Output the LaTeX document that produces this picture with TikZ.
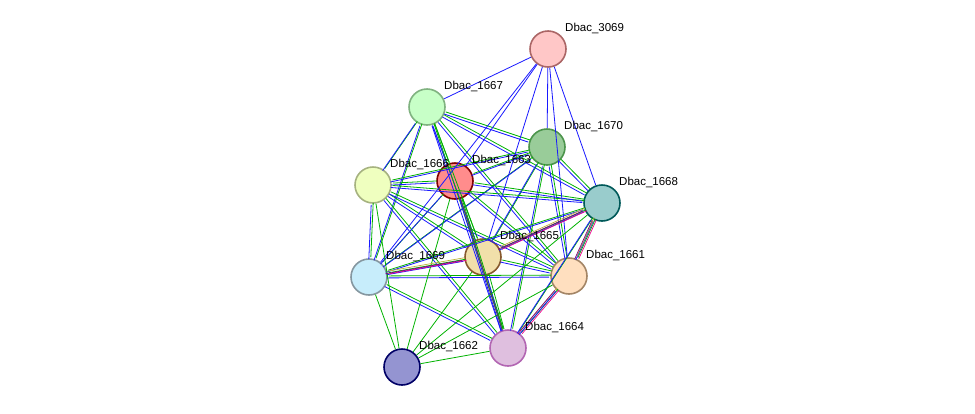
\documentclass[tikz,border=0pt]{standalone}
\usepackage{fontspec}
\setmainfont{Liberation Sans}
\begin{document}
\begin{tikzpicture}[x=1pt,y=-1pt]
    \tikzset{vertex/.style = {shape=circle, draw, line width=1.6pt, minimum size=36pt, inner sep=0pt}}
    \tikzset{lbl/.style = {anchor=south west, font=\fontsize{11.5}{12}\selectfont, inner sep=1pt}}
    \tikzset{ga/.style = {draw=green!70!black, line width=0.8pt, transform canvas={xshift=1pt,yshift=1pt}}}
    \tikzset{bl/.style = {draw=blue!90, line width=0.8pt, transform canvas={xshift=-1pt,yshift=-1pt}}}
    \useasboundingbox (0,0) rectangle (975,413);

    % vertices
    \node[vertex, fill=red!22, draw=red!45!black!60] (n3069) at (548,49) {};
    \node[vertex, fill=green!22, draw=green!40!black!50] (n1667) at (427,107) {};
    \node[vertex, fill=green!50!black!40, draw=green!40!black!70] (n1670) at (547,147) {};
    \node[vertex, fill=lime!25, draw=lime!40!black!50] (n1666) at (373,185) {};
    \node[vertex, fill=red!45, draw=red!50!black] (n1663) at (455,181) {};
    \node[vertex, fill=teal!40, draw=teal!70!black] (n1668) at (602,203) {};
    \node[vertex, fill=yellow!40!brown!40, draw=brown!70!black] (n1665) at (483,257) {};
    \node[vertex, fill=cyan!22, draw=cyan!30!black!60] (n1669) at (369,277) {};
    \node[vertex, fill=orange!25, draw=orange!40!black!60] (n1661) at (569,276) {};
    \node[vertex, fill=violet!25, draw=violet!60] (n1664) at (508,348) {};
    \node[vertex, fill=blue!40!gray!60, draw=blue!40!black] (n1662) at (402,367) {};

    % edges
    \begin{scope}[on background layer/.style={}]
    \foreach \a/\b in {n1667/n1670,n1667/n1666,n1667/n1663,n1667/n1668,n1667/n1665,n1667/n1669,n1667/n1661,n1667/n1664,
        n1670/n1666,n1670/n1663,n1670/n1668,n1670/n1665,n1670/n1669,n1670/n1661,n1670/n1664,
        n1666/n1663,n1666/n1668,n1666/n1665,n1666/n1669,n1666/n1661,n1666/n1664,
        n1663/n1668,n1663/n1665,n1663/n1669,n1663/n1661,n1663/n1664,
        n1668/n1665,n1668/n1669,n1668/n1661,n1668/n1664,
        n1665/n1669,n1665/n1661,n1665/n1664,n1669/n1661,n1669/n1664,n1661/n1664}
      {\path[ga] (\a) -- (\b); \path[bl] (\a) -- (\b);}
    \foreach \b in {n1667,n1663,n1670,n1668,n1661,n1665,n1669}
      \draw[blue!90, line width=0.8pt] (n3069) -- (\b);
    \foreach \b in {n1669,n1665,n1664,n1663,n1666,n1661,n1668}
      \draw[green!70!black, line width=0.8pt] (n1662) -- (\b);
    \foreach \a/\b in {n1665/n1668,n1661/n1668,n1664/n1661,n1665/n1669}
      {\draw[magenta, line width=0.7pt, transform canvas={xshift=2pt}] (\a) -- (\b);
       \draw[yellow!70!black, line width=0.7pt, transform canvas={yshift=2.5pt}] (\a) -- (\b);
       \draw[violet, line width=0.7pt, transform canvas={xshift=-2pt}] (\a) -- (\b);}
    \draw[black!70, line width=1pt] (n1663) -- (n1664);
    \end{scope}

    % redraw vertices on top
    \foreach \n in {n3069,n1667,n1670,n1666,n1663,n1668,n1665,n1669,n1661,n1664,n1662}
      \node[vertex, draw=none, fill=none] at (\n) {};

    % labels
    \node[lbl] (l3069) at (564,35) {Dbac\_3069};
    \node[lbl] (l1667) at (443,93) {Dbac\_1667};
    \node[lbl] (l1670) at (563,133) {Dbac\_1670};
    \node[lbl] (l1666) at (389,171) {Dbac\_1666};
    \node[lbl] (l1663) at (471,167) {Dbac\_1663};
    \node[lbl] (l1668) at (618,189) {Dbac\_1668};
    \node[lbl] (l1665) at (499,243) {Dbac\_1665};
    \node[lbl] (l1669) at (385,263) {Dbac\_1669};
    \node[lbl] (l1661) at (585,262) {Dbac\_1661};
    \node[lbl] (l1664) at (524,334) {Dbac\_1664};
    \node[lbl] (l1662) at (418,353) {Dbac\_1662};
\end{tikzpicture}
\end{document}
